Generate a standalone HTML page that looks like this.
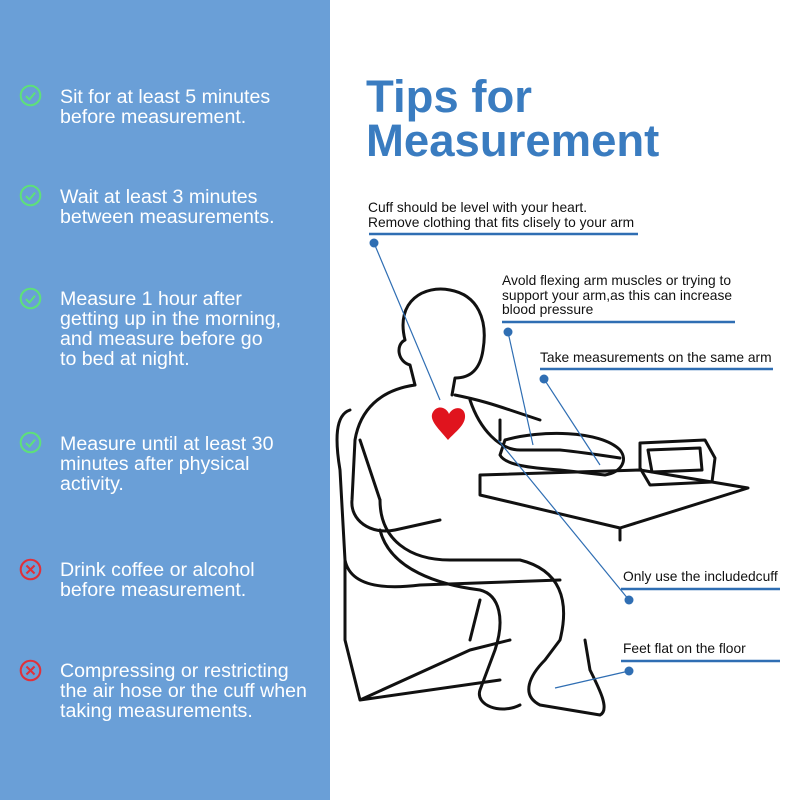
<!DOCTYPE html>
<html><head><meta charset="utf-8"><style>
body{margin:0;width:800px;height:800px;position:relative;background:#fff;font-family:"Liberation Sans",sans-serif;overflow:hidden}
#left{position:absolute;left:0;top:0;width:330px;height:800px;background:#6a9fd7}
.it{position:absolute;left:60px;color:#fff;font-size:19.6px;line-height:20px}
.ic{position:absolute;left:19px;width:23px;height:23px}
.t{position:absolute;color:#111;font-size:13.8px;line-height:14.5px}
h1{position:absolute;left:366px;top:75px;margin:0;color:#3a7cc0;font-size:45.5px;line-height:44px;font-weight:bold}
</style></head><body>
<div id="left">
<svg class="ic" style="top:84px" viewBox="0 0 20 20"><circle cx="10" cy="10" r="8.5" fill="none" stroke="#5ee07a" stroke-width="1.8"/><path d="M6 10.5l3 3 5-6" fill="none" stroke="#5ee07a" stroke-width="1.8"/></svg>
<div class="it" style="top:87px">Sit for at least 5 minutes<br>before measurement.</div>
<svg class="ic" style="top:184px" viewBox="0 0 20 20"><circle cx="10" cy="10" r="8.5" fill="none" stroke="#5ee07a" stroke-width="1.8"/><path d="M6 10.5l3 3 5-6" fill="none" stroke="#5ee07a" stroke-width="1.8"/></svg>
<div class="it" style="top:187px">Wait at least 3 minutes<br>between measurements.</div>
<svg class="ic" style="top:287px" viewBox="0 0 20 20"><circle cx="10" cy="10" r="8.5" fill="none" stroke="#5ee07a" stroke-width="1.8"/><path d="M6 10.5l3 3 5-6" fill="none" stroke="#5ee07a" stroke-width="1.8"/></svg>
<div class="it" style="top:289px">Measure 1 hour after<br>getting up in the morning,<br>and measure before go<br>to bed at night.</div>
<svg class="ic" style="top:431px" viewBox="0 0 20 20"><circle cx="10" cy="10" r="8.5" fill="none" stroke="#5ee07a" stroke-width="1.8"/><path d="M6 10.5l3 3 5-6" fill="none" stroke="#5ee07a" stroke-width="1.8"/></svg>
<div class="it" style="top:434px">Measure until at least 30<br>minutes after physical<br>activity.</div>
<svg class="ic" style="top:558px" viewBox="0 0 20 20"><circle cx="10" cy="10" r="8.5" fill="none" stroke="#e0303a" stroke-width="1.8"/><path d="M6.5 6.5l7 7M13.5 6.5l-7 7" stroke="#e0303a" stroke-width="1.8"/></svg>
<div class="it" style="top:560px">Drink coffee or alcohol<br>before measurement.</div>
<svg class="ic" style="top:659px" viewBox="0 0 20 20"><circle cx="10" cy="10" r="8.5" fill="none" stroke="#e0303a" stroke-width="1.8"/><path d="M6.5 6.5l7 7M13.5 6.5l-7 7" stroke="#e0303a" stroke-width="1.8"/></svg>
<div class="it" style="top:661px">Compressing or restricting<br>the air hose or the cuff when<br>taking measurements.</div>
</div>
<h1>Tips for<br>Measurement</h1>
<svg style="position:absolute;left:0;top:0" width="800" height="800">
<g fill="none" stroke="#111" stroke-width="3" stroke-linejoin="round" stroke-linecap="round">
<path d="M405 340 C395 300 425 285 450 290 C478 295 488 320 483 350 C480 370 470 378 455 378 L452 395 M405 340 C395 345 398 362 410 365 L415 385"/>
<path d="M415 385 C380 390 360 410 355 440 L352 500 C350 520 370 535 395 530 L440 520 M455 395 C480 400 495 405 510 410 L540 420 M360 440 L380 500"/>
<path d="M470 400 C480 430 500 450 520 450 L560 450 C580 452 600 455 620 458 M500 420 L500 440"/>
<path d="M480 475 L640 470 L748 488 L620 528 L480 495 Z M620 528 L620 540"/>
<path d="M640 443 L705 440 L715 458 L712 482 L650 485 L640 468 Z M648 450 L700 448 L702 470 L652 472 Z"/>
<path d="M505 440 C540 430 600 430 620 450 C628 460 622 472 605 475 L560 470 C530 468 505 465 500 455 Z"/>
<path d="M380 500 C380 540 410 560 450 560 L520 560 C560 570 570 600 560 640 L545 660 C530 675 520 695 540 705 L600 715 C610 710 600 690 590 670 L585 640"/>
<path d="M380 530 C390 570 440 585 480 590 C500 595 505 620 495 650 L480 690 C475 705 500 715 520 705"/>
<path d="M350 410 C335 415 335 440 340 470 L345 560 C350 585 380 590 420 585 L560 580 M345 560 L345 640 L360 700 L500 680 M360 700 L470 650 L510 640 M470 640 L480 600"/>
</g>
<path d="M448 440 C440 430 428 420 433 412 C438 404 447 408 449 414 C453 406 464 406 465 415 C466 425 455 432 448 440 Z" fill="#e0141e"/>
<g stroke="#2f6eb3" fill="#2f6eb3">
<line x1="369" y1="234" x2="638" y2="234" stroke-width="2.5"/>
<line x1="502" y1="322" x2="735" y2="322" stroke-width="2.5"/>
<line x1="540" y1="369" x2="773" y2="369" stroke-width="2.5"/>
<line x1="621" y1="589" x2="780" y2="589" stroke-width="2.5"/>
<line x1="621" y1="661" x2="780" y2="661" stroke-width="2.5"/>
<circle cx="374" cy="243" r="4.5" stroke="none"/>
<circle cx="508" cy="332" r="4.5" stroke="none"/>
<circle cx="544" cy="379" r="4.5" stroke="none"/>
<circle cx="629" cy="600" r="4.5" stroke="none"/>
<circle cx="629" cy="671" r="4.5" stroke="none"/>
<g stroke-width="1.2">
<line x1="374" y1="243" x2="440" y2="400"/>
<line x1="508" y1="332" x2="533" y2="445"/>
<line x1="544" y1="379" x2="600" y2="465"/>
<line x1="629" y1="600" x2="498" y2="440"/>
<line x1="629" y1="671" x2="555" y2="688"/>
</g></g>
</svg>
<div class="t" style="left:368px;top:201px">Cuff should be level with your heart.<br>Remove clothing that fits clisely to your arm</div>
<div class="t" style="left:502px;top:274px">Avold flexing arm muscles or trying to<br>support your arm,as this can increase<br>blood pressure</div>
<div class="t" style="left:540px;top:351px">Take measurements on the same arm</div>
<div class="t" style="left:623px;top:570px">Only use the includedcuff</div>
<div class="t" style="left:623px;top:642px">Feet flat on the floor</div>
</body></html>
